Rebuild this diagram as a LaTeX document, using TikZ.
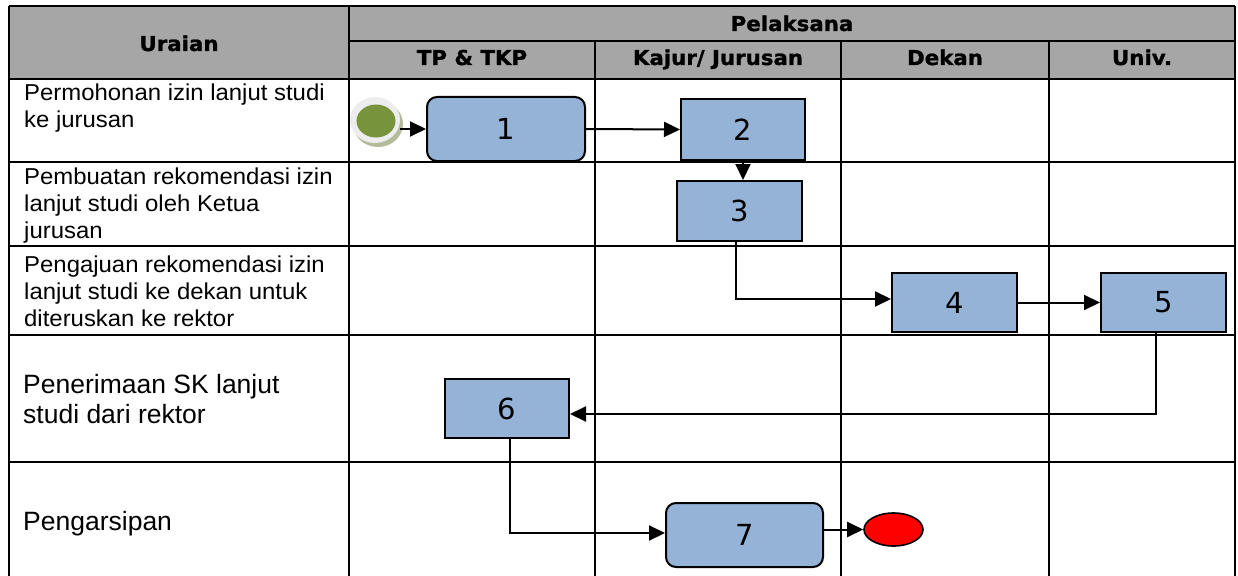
\documentclass[tikz,border=0pt]{standalone}
\usepackage{fontspec}
\setmainfont{Liberation Sans}
\newfontfamily\rowfont{Liberation Sans}[FakeStretch=1.04]
\newfontfamily\hdrfont{DejaVu Sans Bold}[FakeStretch=1.04, FakeBold=1.2]
\newfontfamily\numfont{DejaVu Sans}
\usetikzlibrary{shapes.geometric,arrows.meta}
\definecolor{hdrgray}{HTML}{A6A6A6}
\definecolor{boxblue}{HTML}{95B3D7}
\definecolor{startgreen}{HTML}{77933C}
\definecolor{startshadow}{HTML}{B3BB9B}
\definecolor{startring}{HTML}{EDEDED}
\begin{document}
\begin{tikzpicture}[x=1pt,y=-1pt,
  grid/.style={line width=2.6pt, black},
  stepbox/.style={draw=black, line width=2pt, fill=boxblue, inner sep=0pt, font=\numfont\fontsize{29}{33}\selectfont},
  roundbox/.style={stepbox, rounded corners=10pt},
  flow/.style={line width=2pt, -{Triangle[length=16pt,width=15pt]}},
  hdr/.style={font=\hdrfont\fontsize{20.5}{24}\selectfont, anchor=base, inner sep=0pt},
  rowtxt/.style={font=\rowfont\fontsize{23}{27}\selectfont, anchor=base west, inner sep=0pt},
  rowbig/.style={font=\fontsize{26.5}{30}\selectfont, anchor=base west, inner sep=0pt}]
\useasboundingbox (0,0) rectangle (1238,575);
% header background
\fill[hdrgray] (9,6) rectangle (1235,79);
% grid
\draw[grid] (9,6) -- (1235,6);
\draw[grid] (9,6) -- (9,577);
\draw[grid] (349,6) -- (349,577);
\draw[grid] (1235,6) -- (1235,577);
\draw[grid] (349,41) -- (1235,41);
\draw[grid] (9,79) -- (1235,79);
\foreach \x in {595,841,1049} \draw[grid] (\x,41) -- (\x,577);
\foreach \y in {162,246,335,462} \draw[grid] (9,\y) -- (1235,\y);
% header texts
\node[hdr] (uraian) at (179,51) {Uraian};
\node[hdr] (pelaksana) at (792,31) {Pelaksana};
\node[hdr] (h1) at (472,65) {TP \& TKP};
\node[hdr] (h2) at (718,65) {Kajur/ Jurusan};
\node[hdr] (h3) at (945,65) {Dekan};
\node[hdr] (h4) at (1142,65) {Univ.};
% row texts
\node[rowtxt] (r1a) at (24,101) {Permohonan izin lanjut studi};
\node[rowtxt] (r1b) at (24,128) {ke jurusan};
\node[rowtxt] (r2a) at (24,184) {Pembuatan rekomendasi izin};
\node[rowtxt] (r2b) at (24,211) {lanjut studi oleh Ketua};
\node[rowtxt] (r2c) at (24,238) {jurusan};
\node[rowtxt] (r3a) at (24,272) {Pengajuan rekomendasi izin};
\node[rowtxt] (r3b) at (24,299) {lanjut studi ke dekan untuk};
\node[rowtxt] (r3c) at (24,326) {diteruskan ke rektor};
\node[rowbig] (r4a) at (23,393) {Penerimaan SK lanjut};
\node[rowbig] (r4b) at (23,423) {studi dari rektor};
\node[rowbig] (r5a) at (23,530) {Pengarsipan};
% start symbol
\node[ellipse, fill=startshadow, minimum width=50pt, minimum height=46pt, inner sep=0pt] (startsh) at (378,124) {};
\node[ellipse, fill=startring, minimum width=50pt, minimum height=46pt, inner sep=0pt] (start) at (375,120) {};
\node[ellipse, fill=startgreen, minimum width=39pt, minimum height=33pt, inner sep=0pt] (startin) at (376,121) {};
% process boxes
\node[roundbox, minimum width=158pt, minimum height=64pt] (b1) at (506,129) {1};
\node[stepbox, minimum width=124pt, minimum height=60pt] (b2) at (743,129.5) {2};
\node[stepbox, minimum width=125pt, minimum height=60pt] (b3) at (739.5,211) {3};
\node[stepbox, minimum width=125pt, minimum height=59pt] (b4) at (954.5,302.5) {4};
\node[stepbox, minimum width=125pt, minimum height=59pt] (b5) at (1163.5,302.5) {5};
\node[stepbox, minimum width=124pt, minimum height=59pt] (b6) at (507,408.5) {6};
\node[roundbox, minimum width=157pt, minimum height=64pt] (b7) at (744.5,535) {7};
% end symbol
\node[ellipse, draw=black, line width=1.6pt, fill=red, minimum width=59pt, minimum height=33pt, inner sep=0pt] (endn) at (893.5,529.5) {};
% connectors
\draw[flow] (start.east |- b1.west) -- (b1.west);
\draw[flow] (b1.east) -- (b2.west);
\draw[flow] (b2.south) -- (b2.south |- b3.north);
\draw[flow] ([xshift=-3.5pt]b3.south) |- ([yshift=3.5pt]b4.west);
\draw[flow] (b4.east) -- (b5.west);
\draw[flow] ([xshift=-8pt]b5.south) |- ([yshift=-5.5pt]b6.east);
\draw[flow] ([xshift=3pt]b6.south) |- ([yshift=2pt]b7.west);
\draw[flow] (b7.east |- endn.west) -- (endn.west);
\end{tikzpicture}
\end{document}
